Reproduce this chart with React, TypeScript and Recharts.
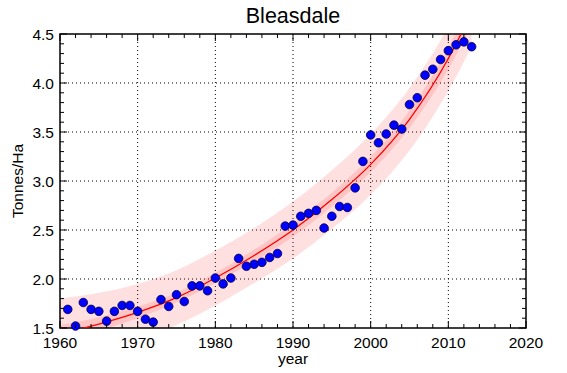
import { ComposedChart, XAxis, YAxis, CartesianGrid, Line, Area, Scatter, ReferenceArea } from "recharts";

// observed yields
const years = [
  1961, 1962, 1963, 1964, 1965, 1966, 1967, 1968, 1969, 1970,
  1971, 1972, 1973, 1974, 1975, 1976, 1977, 1978, 1979, 1980,
  1981, 1982, 1983, 1984, 1985, 1986, 1987, 1988, 1989, 1990,
  1991, 1992, 1993, 1994, 1995, 1996, 1997, 1998, 1999, 2000,
  2001, 2002, 2003, 2004, 2005, 2006, 2007, 2008, 2009, 2010,
  2011, 2012, 2013,
];
const yields = [
  1.69, 1.52, 1.76, 1.69, 1.67, 1.57, 1.67, 1.73, 1.73, 1.67,
  1.59, 1.56, 1.79, 1.72, 1.84, 1.77, 1.93, 1.93, 1.88, 2.01,
  1.95, 2.01, 2.21, 2.13, 2.15, 2.17, 2.22, 2.26, 2.54, 2.55,
  2.64, 2.67, 2.7, 2.52, 2.64, 2.74, 2.73, 2.93, 3.2, 3.47,
  3.39, 3.48, 3.57, 3.53, 3.78, 3.85, 4.08, 4.14, 4.24, 4.33,
  4.39, 4.42, 4.37,
];

// fitted curve + bands
const fitYears = [1960, 1965, 1970, 1975, 1980, 1985, 1990, 1995, 2000, 2005, 2010, 2013];
const fitValues = [1.44, 1.54, 1.66, 1.81, 2.01, 2.24, 2.5, 2.81, 3.17, 3.63, 4.25, 4.72];
const outerLow = [1.08, 1.22, 1.37, 1.53, 1.73, 1.96, 2.21, 2.51, 2.86, 3.31, 3.92, 4.37];
const outerHigh = [1.8, 1.86, 1.95, 2.09, 2.29, 2.52, 2.79, 3.11, 3.48, 3.95, 4.58, 5.07];
const innerLow = [1.35, 1.47, 1.6, 1.76, 1.96, 2.18, 2.43, 2.74, 3.09, 3.54, 4.14, 4.59];
const innerHigh = [1.53, 1.61, 1.72, 1.86, 2.06, 2.3, 2.57, 2.88, 3.25, 3.72, 4.36, 4.85];

const xTicks = [
  1960, 1962, 1964, 1966, 1968, 1970, 1972, 1974, 1976, 1978, 1980, 1982, 1984, 1986, 1988,
  1990, 1992, 1994, 1996, 1998, 2000, 2002, 2004, 2006, 2008, 2010, 2012, 2014, 2016, 2018, 2020,
];
const xMajor = [1960, 1970, 1980, 1990, 2000, 2010, 2020];
const yTicks = [
  1.5, 1.6, 1.7, 1.8, 1.9, 2.0, 2.1, 2.2, 2.3, 2.4, 2.5, 2.6, 2.7, 2.8, 2.9, 3.0,
  3.1, 3.2, 3.3, 3.4, 3.5, 3.6, 3.7, 3.8, 3.9, 4.0, 4.1, 4.2, 4.3, 4.4, 4.5,
];
const yMajor = [1.5, 2.0, 2.5, 3.0, 3.5, 4.0, 4.5];

const points = years.map((year, i) => ({ year, yield: yields[i] }));
const fitData = fitYears.map((year, i) => ({
  year,
  fit: fitValues[i],
  outer: [outerLow[i], outerHigh[i]],
  inner: [innerLow[i], innerHigh[i]],
}));

const FONT = '"Liberation Sans", Arial, sans-serif';
const W = 567;
const H = 373;
const PL = 60;
const PR = 526;
const PT = 34;
const PB = 328;

const XTick = (props: any) => {
  const { x, payload } = props;
  const major = xMajor.includes(payload.value);
  const len = major ? 7 : 4;
  return (
    <g>
      <line x1={x} x2={x} y1={PB} y2={PB - len} stroke="#000" />
      <line x1={x} x2={x} y1={PT} y2={PT + len} stroke="#000" />
      {major && (
        <text x={x} y={PB + 20} textAnchor="middle" fontSize={15.5} fontFamily={FONT} fill="#000">
          {payload.value}
        </text>
      )}
    </g>
  );
};

const YTick = (props: any) => {
  const { y, payload } = props;
  const v = Math.round(payload.value * 10) / 10;
  const major = yMajor.some((m) => Math.abs(m - v) < 1e-6);
  const len = major ? 7 : 4;
  return (
    <g>
      <line x1={PL} x2={PL + len} y1={y} y2={y} stroke="#000" />
      <line x1={PR} x2={PR - len} y1={y} y2={y} stroke="#000" />
      {major && (
        <text x={PL - 6} y={y + 5.5} textAnchor="end" fontSize={15.5} fontFamily={FONT} fill="#000">
          {v.toFixed(1)}
        </text>
      )}
    </g>
  );
};

const Dot = (props: any) => (
  <circle cx={props.cx} cy={props.cy} r={4.3} fill="#0000ff" stroke="#00003a" strokeWidth={0.8} />
);

export default function App() {
  return (
    <div style={{ position: "absolute", left: 0, top: 0, width: W, height: H, background: "#fff" }}>
      <ComposedChart width={W} height={H} margin={{ top: PT, right: W - PR, bottom: 0, left: 0 }}>
        <CartesianGrid
          stroke="#000"
          strokeDasharray="1 3"
          verticalValues={[1970, 1980, 1990, 2000, 2010]}
          horizontalValues={[2.0, 2.5, 3.0, 3.5, 4.0]}
        />
        <XAxis
          dataKey="year"
          type="number"
          domain={[1960, 2020]}
          ticks={xTicks}
          interval={0}
          height={H - PB}
          allowDataOverflow
          axisLine={false}
          tickLine={false}
          tick={<XTick />}
        />
        <YAxis
          type="number"
          domain={[1.5, 4.5]}
          ticks={yTicks}
          interval={0}
          width={PL}
          allowDataOverflow
          axisLine={false}
          tickLine={false}
          tick={<YTick />}
        />
        <YAxis yAxisId="pts" type="number" domain={[1.5, 4.5]} hide />
        <Area
          data={fitData}
          dataKey="outer"
          type="monotone"
          stroke="none"
          fill="#ff0000"
          fillOpacity={0.12}
          isAnimationActive={false}
        />
        <Area
          data={fitData}
          dataKey="inner"
          type="monotone"
          stroke="none"
          fill="#ff0000"
          fillOpacity={0.12}
          isAnimationActive={false}
        />
        <Line
          data={fitData}
          dataKey="fit"
          type="monotone"
          stroke="#ff0000"
          strokeWidth={1.3}
          dot={false}
          isAnimationActive={false}
        />
        <ReferenceArea x1={1960} x2={2020} y1={1.5} y2={4.5} fill="none" stroke="#000" strokeWidth={1.5} />
        <Scatter yAxisId="pts" data={points} dataKey="yield" shape={<Dot />} isAnimationActive={false} />
      </ComposedChart>
      <div
        style={{
          position: "absolute",
          left: PL,
          width: PR - PL,
          top: 4,
          textAlign: "center",
          fontFamily: FONT,
          fontSize: 21.5,
          color: "#000",
        }}
      >
        Bleasdale
      </div>
      <div
        style={{
          position: "absolute",
          left: PL,
          width: PR - PL,
          top: 351,
          lineHeight: "15px",
          textAlign: "center",
          fontFamily: FONT,
          fontSize: 15.5,
          color: "#000",
        }}
      >
        year
      </div>
      <div
        style={{
          position: "absolute",
          left: 18,
          top: (PT + PB) / 2,
          transform: "translate(-50%, -50%) rotate(-90deg)",
          whiteSpace: "nowrap",
          fontFamily: FONT,
          fontSize: 15.5,
          color: "#000",
        }}
      >
        Tonnes/Ha
      </div>
    </div>
  );
}
